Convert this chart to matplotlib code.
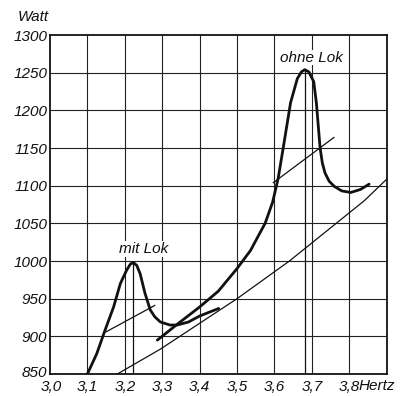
import matplotlib
matplotlib.use("Agg")
import matplotlib.pyplot as plt
from matplotlib.transforms import blended_transform_factory, ScaledTranslation

# ---- data ----
x_ticks = [3.0, 3.1, 3.2, 3.3, 3.4, 3.5, 3.6, 3.7, 3.8]
x_ticklabels = ["3,0", "3,1", "3,2", "3,3", "3,4", "3,5", "3,6", "3,7", "3,8"]
y_ticks = [850, 900, 950, 1000, 1050, 1100, 1150, 1200, 1250, 1300]

# resonance curve "mit Lok"
mit_x = [3.100, 3.125, 3.147, 3.170, 3.188, 3.205, 3.215, 3.223, 3.232, 3.241,
         3.254, 3.268, 3.280, 3.295, 3.321, 3.340, 3.370, 3.400, 3.451]
mit_y = [850, 877, 908, 939, 970, 988, 996, 998, 994, 983,
         957, 935, 926, 919, 915, 915, 919, 927, 937]

# resonance curve "ohne Lok"
ohne_x = [3.287, 3.340, 3.400, 3.450, 3.500, 3.536, 3.550, 3.575, 3.595, 3.610,
          3.624, 3.643, 3.661, 3.672, 3.681, 3.692, 3.705, 3.712, 3.717, 3.722,
          3.728, 3.735, 3.746, 3.760, 3.780, 3.804, 3.830, 3.853]
ohne_y = [895, 916, 939, 960, 990, 1014, 1027, 1050, 1078, 1110,
          1152, 1210, 1242, 1251, 1254, 1251, 1238, 1210, 1180, 1150,
          1130, 1117, 1106, 1099, 1093, 1091, 1095, 1102]

# thin base curve
base_x = [3.180, 3.295, 3.500, 3.640, 3.840, 3.905]
base_y = [850, 883, 950, 1000, 1080, 1111]

# thin tangent lines
tan_mit_x = [3.150, 3.280]
tan_mit_y = [906, 941]
tan_ohne_x = [3.597, 3.759]
tan_ohne_y = [1104, 1164]

# peak markers
peak_mit = (3.223, 998)
peak_ohne = (3.681, 1254)

fam = ["Liberation Sans", "DejaVu Sans"]
plt.rcParams["font.family"] = fam
FS = 11
INK = "#111111"

fig = plt.figure(figsize=(4.03, 3.96), dpi=100)
ax = fig.add_axes([50 / 403, 1 - 374 / 396, 336.7 / 403, 339 / 396])
ax.set_xlim(3.0, 3.9)
ax.set_ylim(850, 1300)

# grid
for xv in x_ticks[1:]:
    ax.axvline(xv, color="#222222", lw=0.8, zorder=1)
for yv in y_ticks[1:-1]:
    ax.axhline(yv, color="#222222", lw=0.8, zorder=1)

for s in ax.spines.values():
    s.set_linewidth(1.3)
    s.set_color(INK)

ax.set_xticks(x_ticks)
ax.set_xticklabels(x_ticklabels)
ax.set_yticks(y_ticks)
ax.tick_params(axis="y", length=0, pad=2)
ax.tick_params(axis="x", length=0, pad=4)
for lab in ax.get_xticklabels() + ax.get_yticklabels():
    lab.set_fontstyle("italic")
    lab.set_fontsize(FS)
    lab.set_color(INK)

# nudge the lowest y label up a little so it clears "3,0"
ylab0 = ax.get_yticklabels()[0]
ylab0.set_transform(ylab0.get_transform() + ScaledTranslation(0, 3 / 100, fig.dpi_scale_trans))
xlab0 = ax.get_xticklabels()[0]
xlab0.set_transform(xlab0.get_transform() + ScaledTranslation(1 / 100, 0, fig.dpi_scale_trans))

# curves
ax.plot(mit_x, mit_y, color=INK, lw=2.0, solid_joinstyle="round",
        solid_capstyle="round", zorder=4)
ax.plot(ohne_x, ohne_y, color=INK, lw=2.0, solid_joinstyle="round",
        solid_capstyle="round", zorder=4)
ax.plot(base_x, base_y, color=INK, lw=0.9, zorder=3)
ax.plot(tan_mit_x, tan_mit_y, color=INK, lw=0.9, zorder=3)
ax.plot(tan_ohne_x, tan_ohne_y, color=INK, lw=0.9, zorder=3)
ax.plot([peak_mit[0], peak_mit[0]], [850, peak_mit[1]], color=INK, lw=0.9, zorder=3)
ax.plot([peak_ohne[0], peak_ohne[0]], [850, peak_ohne[1]], color=INK, lw=0.9, zorder=3)

# annotations
ax.text(3.250, 1016, "mit Lok", fontsize=FS, fontstyle="italic",
        ha="center", va="center", color=INK, zorder=5,
        bbox=dict(facecolor="white", edgecolor="none", pad=0.5))
ax.text(3.700, 1270, "ohne Lok", fontsize=FS, fontstyle="italic",
        ha="center", va="center", color=INK, zorder=5,
        bbox=dict(facecolor="white", edgecolor="none", pad=0.5))

trans = blended_transform_factory(ax.transData, ax.transAxes)
ax.text(3.824, -0.016, "Hertz", transform=trans, fontsize=FS, fontstyle="italic",
        ha="left", va="top", color=INK)
fig.text(33 / 403, 1 - 17 / 396, "Watt", fontsize=FS, fontstyle="italic",
         ha="center", va="center", color=INK)

fig.savefig("out.png", dpi=100)
